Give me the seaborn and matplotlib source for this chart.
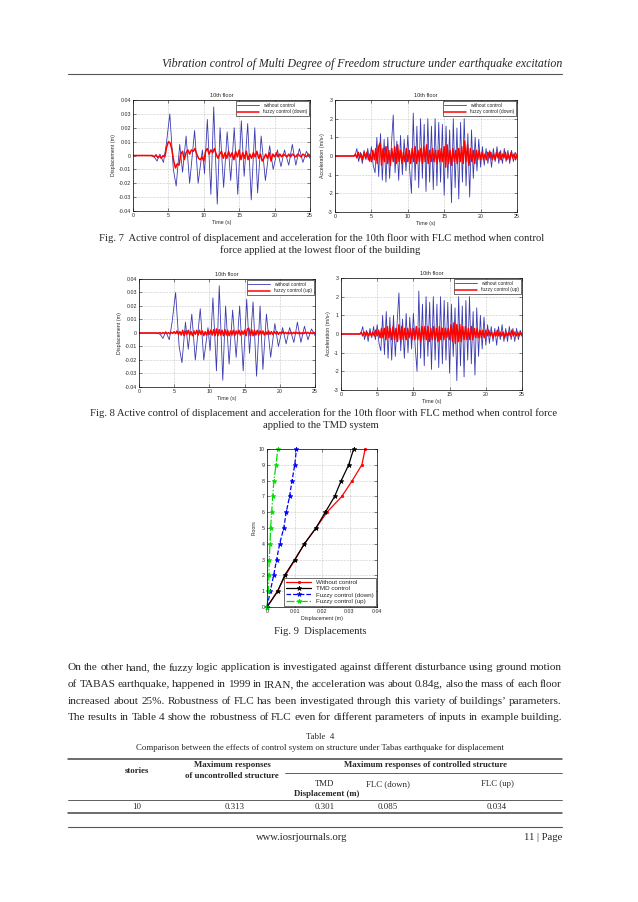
import numpy as np
import pandas as pd
import matplotlib
matplotlib.use("Agg")
import matplotlib.pyplot as plt
import seaborn as sns
from matplotlib.ticker import FixedLocator, FixedFormatter

# ---------------- data ----------------
# 10th floor displacement, without control (turning points, same run in Fig 7 and Fig 8)
disp_free_t = [0, 2.5, 3.0, 3.4, 3.8, 4.3, 4.7, 5.2, 5.7, 6.1, 6.6, 7.0, 7.5, 8.0, 8.7, 9.2,
               9.8, 10.1, 10.5, 11.0, 11.4, 11.9, 12.3, 12.8, 13.3, 13.8, 14.3, 14.8, 15.3,
               15.7, 16.2, 16.7, 17.2, 17.6, 18.1, 18.7, 19.3, 19.8, 20.4, 20.9, 21.4, 22.0,
               22.5, 23.0, 23.5, 24.0, 24.5, 25.0]
disp_free = [0, 0, -0.001, -0.004, 0.001, -0.005, 0.008, 0.030, -0.010, -0.022, 0.008, -0.012,
             0.014, -0.020, 0.018, -0.020, 0.004, -0.013, 0.026, -0.028, 0.035, -0.035, 0.020,
             -0.023, 0.017, -0.018, 0.020, -0.028, 0.025, -0.015, 0.023, -0.032, 0.020, -0.027,
             0.014, -0.018, 0.007, -0.010, 0.004, -0.008, 0.004, -0.007, 0.008, -0.007, 0.005,
             -0.005, 0.003, -0.002]

# 10th floor acceleration without control, every 0.25 s
acc_free = [0, 0, 0, 0, 0, 0, 0, 0, 0, 0, 0, 0,
            0.4, -0.3, 0.2, -0.4, 0.3, -0.2, 0.4, -0.3, 0.5, -0.5,
            -0.9, 1.0, -1.1, 1.2, -1.3, 0.9, -1.4, 1.0, -1.2, 0.6,
            2.2, -0.9, 0.8, -1.3, 1.1, -1.0, 0.9, -0.8, 1.1, -0.7,
            -2.0, 2.3, -1.3, 1.6, -1.7, 2.0, -1.2, 1.7, -1.9, 2.0,
            -1.4, 1.6, -1.8, 2.0, -1.6, 1.8, -1.4, 1.7, -2.1, 1.6,
            -1.2, 1.4, -2.5, 2.0, -1.7, 1.5, -2.3, 1.8, -1.4, 2.0,
            -1.6, 1.2, -2.2, 1.4, -1.2, 1.0, -0.8, 0.9, -0.6, 0.5,
            -0.5, 0.4, -0.4, 0.3, -0.6, 0.4, -0.3, 0.5, -0.4, 0.3,
            -0.4, 0.4, -0.3, 0.3, -0.4, 0.3, -0.3, 0.2, -0.1]

# fuzzy control (down), displacement every 0.25 s
disp_down = [0, 0, 0, 0, 0, 0, 0, 0, 0, 0, 0, 0,
             -0.001, 0.0005, -0.0015, -0.0005, -0.002, 0.0, -0.001, 0.006, 0.010, 0.009,
             0.004, -0.004, -0.009, -0.006, -0.007, 0.001, 0.003, -0.003, 0.002, 0.004,
             0.001, 0.004, 0.003, 0.005, 0.001, -0.002, -0.003, -0.001, -0.004, 0.003,
             0.005, 0.001, 0.004, 0.002, 0.005, 0.001, -0.002, 0.001, 0.003, -0.002,
             0.002, -0.002, 0.003, -0.001, 0.002, -0.003, 0.003, -0.001, 0.004, -0.003,
             0.002, -0.002, 0.003, -0.003, 0.001, -0.002, 0.002, -0.001, 0.003, -0.002,
             0.001, -0.004, -0.002, 0.001, -0.002, 0.002, -0.004, 0.001, -0.001, 0.002,
             -0.001, 0.001, -0.001, 0.001, 0.0, -0.001, 0.001, -0.001, 0.001, 0.0,
             -0.001, 0.001, 0.0, -0.001, 0.001, 0.0, -0.001, 0.001, 0.0]

# fuzzy control (down), acceleration every 0.2 s
acc_down = [0, 0, 0, 0, 0, 0, 0, 0, 0, 0, 0, 0, 0, 0,
            0.1, -0.1, 0.2, -0.1, 0.1, -0.2, 0.2, -0.1, 0.2, -0.2, 0.1, -0.3, 0.3, -0.2,
            0.4, -0.4, 0.5, 0.7, -0.5, 0.4, -0.3, 0.5, -0.4, 0.3, -0.5, 0.4, -0.3, 0.5,
            -0.4, 0.6, -0.3, 0.3, -0.4, 0.2, -0.3, 0.4, -0.3, 0.3, -0.4, 0.4, -0.3, 0.5,
            -0.4, 0.3, -0.3, 0.4, -0.4, 0.5, -0.3, 0.6, -0.4, 0.3, -0.3, 0.4, -0.3, 0.3,
            -0.4, 0.3, -0.3, 0.4, -0.3, 0.5, -0.6, 0.6, -0.4, 0.3, -0.5, 0.4, -0.3, 0.3,
            -0.4, 0.4, -0.3, 0.5, -0.4, 0.8, -0.3, 0.6, -0.5, 0.4, -0.3, 0.3, -0.4, 0.3,
            -0.2, 0.3, -0.2, 0.2, -0.2, 0.1, -0.2, 0.2, -0.1, 0.2, -0.2, 0.1, -0.2, 0.2,
            -0.1, 0.2, -0.2, 0.1, -0.1, 0.2, -0.2, 0.1, -0.2, 0.2, -0.1, 0.1, -0.2, 0.1]

# fuzzy control (up), displacement every 0.2 s
disp_up = [0, 0, 0, 0, 0, 0, 0, 0, 0, 0, 0, 0, 0, 0, 0,
           0.0003, -0.0005, 0.0003, -0.0003, 0.0005, -0.0005, 0.0003, -0.0005, 0.0005, -0.0003,
           0.001, -0.0005, 0.0015, -0.001, 0.001, -0.0015, 0.002, -0.002, 0.0015, -0.001,
           0.002, -0.0015, 0.001, -0.002, 0.0015, -0.001, 0.002, -0.0015, 0.002, -0.001,
           0.0015, -0.002, 0.001, -0.0015, 0.002, -0.001, 0.002, -0.0015, 0.0025, -0.002,
           0.003, -0.002, 0.0025, -0.0015, 0.002, -0.002, 0.0025, -0.0015, 0.002, -0.002,
           0.0015, -0.0015, 0.002, -0.002, 0.0015, -0.001, 0.002, -0.0015, 0.0015, -0.001,
           0.002, -0.002, 0.003, 0.0035, -0.002, 0.0025, -0.002, 0.002, -0.0015, 0.002,
           -0.0015, 0.0015, -0.001, 0.0015, -0.0015, 0.001, -0.001, 0.0015, -0.001, 0.001,
           -0.001, 0.001, -0.0005, 0.001, -0.001, 0.0005, -0.0005, 0.001, -0.0005, 0.0005,
           -0.0005, 0.0005, -0.0005, 0.0005, -0.0005, 0.0005, -0.0005, 0.0005, -0.0005, 0.0005,
           -0.0005, 0.0003, -0.0005, 0.0005, -0.0003, 0.0005, -0.0005, 0.0003, -0.0005, 0.0005, 0.0]

# fuzzy control (up), acceleration every 0.2 s
acc_up = [0, 0, 0, 0, 0, 0, 0, 0, 0, 0, 0, 0, 0, 0,
          0.1, -0.1, 0.1, -0.1, 0.1, -0.1, 0.1, -0.1, 0.1, -0.1, 0.2, -0.1, 0.2, -0.2,
          0.3, -0.2, 0.3, -0.3, 0.4, -0.2, 0.3, -0.3, 0.4, -0.3, 0.3, -0.4, 0.5, -0.3,
          0.4, -0.3, 0.3, -0.3, 0.3, -0.2, 0.3, -0.3, 0.3, -0.3, 0.4, -0.3, 0.3, -0.4,
          0.4, -0.3, 0.4, -0.3, 0.4, -0.4, 0.3, -0.3, 0.4, -0.3, 0.3, -0.4, 0.4, -0.3,
          0.3, -0.3, 0.3, -0.2, 0.3, -0.3, 0.5, -0.4, 0.6, -0.5, 0.5, -0.4, 0.5, -0.4,
          0.4, -0.3, 0.4, -0.3, 0.3, -0.3, 0.4, -0.3, 0.3, -0.2, 0.3, -0.2, 0.2, -0.2,
          0.2, -0.2, 0.2, -0.1, 0.2, -0.1, 0.1, -0.2, 0.1, -0.1, 0.2, -0.1, 0.1, -0.1,
          0.1, -0.2, 0.1, -0.1, 0.1, -0.1, 0.2, -0.1, 0.1, -0.1, 0.1, -0.1, 0.1, -0.1]

# Fig 9: peak displacement per floor
floors = [0, 1, 2, 3, 4, 5, 6, 7, 8, 9, 10]
floor_free = [0, 0.0038, 0.0067, 0.0102, 0.0136, 0.0178, 0.0218, 0.0272, 0.0310, 0.0345, 0.0357]
floor_tmd = [0, 0.0039, 0.0064, 0.0101, 0.0136, 0.0178, 0.0212, 0.0246, 0.0270, 0.0297, 0.0315]
floor_down = [0, 0.0012, 0.0024, 0.0035, 0.0046, 0.0061, 0.0070, 0.0082, 0.0091, 0.0101, 0.0107]
floor_up = [0, 0.0005, 0.0007, 0.0008, 0.0011, 0.0013, 0.0017, 0.0021, 0.0025, 0.0033, 0.0039]

# tick labels
time_ticks = [0, 5, 10, 15, 20, 25]
disp_ticks = [-0.04, -0.03, -0.02, -0.01, 0, 0.01, 0.02, 0.03, 0.04]
disp_labels = ["-0.04", "-0.03", "-0.02", "-0.01", "0", "0.01", "0.02", "0.03", "0.04"]
acc_ticks = [-3, -2, -1, 0, 1, 2, 3]
floor_x_ticks = [0, 0.01, 0.02, 0.03, 0.04]
floor_x_labels = ["0", "0.01", "0.02", "0.03", "0.04"]

# Table 4
table_cols = ["TMD", "FLC (down)", "FLC (up)"]
table_row = ["10", "0.313", "0.301", "0.085", "0.034"]

paragraph = [
    "On the other hand, the fuzzy logic application is investigated against different disturbance using ground motion",
    "of TABAS earthquake, happened in 1999 in IRAN, the acceleration was about 0.84g, also the mass of each floor",
    "increased about 25%. Robustness of FLC has been investigated through this variety of buildings\u2019 parameters.",
    "The results in Table 4 show the robustness of FLC even for different parameters of inputs in example building.",
]

# ---------------- page ----------------
sns.set_theme(style="white")
plt.rcParams["font.family"] = ["Liberation Sans", "DejaVu Sans"]
plt.rcParams["axes.linewidth"] = 0.5
plt.rcParams["axes.edgecolor"] = "black"

W, H = 638, 902
fig = plt.figure(figsize=(W / 100, H / 100), dpi=100)
page = fig.add_axes([0, 0, 1, 1])
page.set_xlim(0, W)
page.set_ylim(H, 0)
page.axis("off")
renderer = fig.canvas.get_renderer()
SERIF = ["Liberation Serif", "DejaVu Serif"]


def fit_size(s, width, **kw):
    t = page.text(0, 0, s, fontsize=10, **kw)
    w = t.get_window_extent(renderer).width
    t.remove()
    return 10 * width / w


def justify(y, line, x0, x1, size):
    words = line.split()
    ts = [page.text(0, y, w, fontsize=size, family=SERIF, va="center") for w in words]
    widths = [t.get_window_extent(renderer).width for t in ts]
    gap = (x1 - x0 - sum(widths)) / (len(words) - 1)
    x = x0
    for t, w in zip(ts, widths):
        t.set_x(x)
        x += w + gap


def px_axes(x0, y0, x1, y1):
    return fig.add_axes([x0 / W, 1 - y1 / H, (x1 - x0) / W, (y1 - y0) / H])


# header
head = "Vibration control of Multi Degree of Freedom structure under earthquake excitation"
hs = fit_size(head, 402, family=SERIF, style="italic")
page.text(562, 64, head, fontsize=hs, family=SERIF, style="italic", ha="right", va="center")
page.plot([68, 562], [74, 74], color="#555555", lw=0.8)

# captions
cap7 = "Fig. 7  Active control of displacement and acceleration for the 10th floor with FLC method when control"
cs = fit_size(cap7, 446, family=SERIF)
page.text(322, 238, cap7, fontsize=cs, family=SERIF, ha="center", va="center")
page.text(320, 250, "force applied at the lowest floor of the building", fontsize=cs,
          family=SERIF, ha="center", va="center")
cap8 = "Fig. 8 Active control of displacement and acceleration for the 10th floor with FLC method when control force"
page.text(324, 413, cap8, fontsize=cs, family=SERIF, ha="center", va="center")
page.text(321, 425, "applied to the TMD system", fontsize=cs, family=SERIF, ha="center", va="center")
page.text(320, 631, "Fig. 9  Displacements", fontsize=cs, family=SERIF, ha="center", va="center")

# body paragraph, justified
for i, line in enumerate(paragraph):
    justify(668 + i * 16.5, line, 68, 562, cs * 1.06)

# table 4
sub = "Comparison between the effects of control system on structure under Tabas earthquake for displacement"
ts_ = fit_size(sub, 365, family=SERIF)
page.text(320, 737, "Table  4", fontsize=ts_, family=SERIF, ha="center", va="center")
page.text(320, 748, sub, fontsize=ts_, family=SERIF, ha="center", va="center")
page.plot([68, 562], [759, 759], color="#444444", lw=1.1)
page.text(137, 771, "stories", fontsize=ts_, family=SERIF, weight="bold", ha="center", va="center")
page.text(232, 765, "Maximum responses", fontsize=ts_, family=SERIF, weight="bold", ha="center", va="center")
page.text(232, 776, "of uncontrolled structure", fontsize=ts_, family=SERIF, weight="bold",
          ha="center", va="center")
page.text(425, 765, "Maximum responses of controlled structure", fontsize=ts_, family=SERIF,
          weight="bold", ha="center", va="center")
page.plot([285, 562], [773, 773], color="#444444", lw=0.6)
col_x = [137, 235, 325, 388, 497]
for x, lab in zip(col_x[2:], table_cols):
    page.text(x, 784, lab, fontsize=ts_, family=SERIF, ha="center", va="center")
page.text(327, 794, "Displacement (m)", fontsize=ts_, family=SERIF, weight="bold", ha="center", va="center")
page.plot([68, 562], [800, 800], color="#444444", lw=0.6)
for x, v in zip(col_x, table_row):
    page.text(x, 807, v, fontsize=ts_, family=SERIF, ha="center", va="center")
page.plot([68, 562], [813, 813], color="#444444", lw=1.1)

# footer
page.plot([68, 562], [827, 827], color="#555555", lw=0.8)
page.text(302, 837, "www.iosrjournals.org", fontsize=cs, family=SERIF, ha="center", va="center")
page.text(562, 837, "11 | Page", fontsize=cs, family=SERIF, ha="right", va="center")

# ---------------- time history panels ----------------
BLUE = "#3a3ab0"
FS = 3.8


def style_axes(ax):
    ax.grid(True, linestyle=":", color="#999999", lw=0.4)
    ax.tick_params(direction="in", length=2, width=0.4, labelsize=FS, pad=1.5,
                   top=True, right=True, bottom=True, left=True)
    for s in ax.spines.values():
        s.set_linewidth(0.5)
        s.set_color("black")


def history(box, t_ctl, v_ctl, ctl_label, free_t, free_v, kind):
    ax = px_axes(*box)
    sns.lineplot(x=free_t, y=free_v, ax=ax, color=BLUE, lw=0.6, label="without control",
                 estimator=None, sort=False)
    sns.lineplot(x=t_ctl, y=v_ctl, ax=ax, color="#ff0000", lw=1.1, label=ctl_label,
                 estimator=None, sort=False)
    ax.set_xlim(0, 25)
    ax.xaxis.set_major_locator(FixedLocator(time_ticks))
    ax.xaxis.set_major_formatter(FixedFormatter([str(v) for v in time_ticks]))
    if kind == "disp":
        ax.set_ylim(-0.04, 0.04)
        ax.yaxis.set_major_locator(FixedLocator(disp_ticks))
        ax.yaxis.set_major_formatter(FixedFormatter(disp_labels))
        ax.set_ylabel("Displacement (m)", fontsize=FS, labelpad=2)
    else:
        ax.set_ylim(-3, 3)
        ax.yaxis.set_major_locator(FixedLocator(acc_ticks))
        ax.yaxis.set_major_formatter(FixedFormatter([str(v) for v in acc_ticks]))
        ax.set_ylabel("Acceleration (m/s\u00b2)", fontsize=FS, labelpad=2)
    ax.set_xlabel("Time (s)", fontsize=FS, labelpad=1.5)
    ax.set_title("10th floor", fontsize=FS + 0.3, pad=2)
    style_axes(ax)
    leg = ax.legend(loc="upper right", fontsize=FS - 0.3, frameon=True, fancybox=False,
                    edgecolor="black", framealpha=1, handlelength=4.5, borderpad=0.3,
                    labelspacing=0.3, borderaxespad=0.3)
    leg.get_frame().set_linewidth(0.4)
    return ax


t25 = np.arange(len(acc_free)) * 0.25
history((133, 100, 310, 211), np.arange(len(disp_down)) * 0.25, disp_down,
        "fuzzy control (down)", disp_free_t, disp_free, "disp")
history((335, 100, 517, 212), np.arange(len(acc_down)) * 0.2, acc_down,
        "fuzzy control (down)", t25, acc_free, "acc")
history((139, 279, 315, 387), np.arange(len(disp_up)) * 0.2, disp_up,
        "fuzzy control (up)", disp_free_t, disp_free, "disp")
history((341, 278, 522, 390), np.arange(len(acc_up)) * 0.2, acc_up,
        "fuzzy control (up)", t25, acc_free, "acc")

# ---------------- Fig 9 profile ----------------
ax9 = px_axes(267, 449, 377, 607)
prof = [
    (floor_free, "Without control", "#ff0000", "-", "."),
    (floor_tmd, "TMD control", "black", "-", "*"),
    (floor_down, "Fuzzy control (down)", "#0000ff", "--", "*"),
    (floor_up, "Fuzzy control (up)", "#00dd00", "-.", "*"),
]
for vals, lab, col, ls, mk in prof:
    sns.lineplot(x=vals, y=floors, ax=ax9, color=col, linestyle=ls, marker=mk, markersize=3.5,
                 markeredgecolor=col, markerfacecolor=col, markeredgewidth=0.5, lw=0.9,
                 label=lab, estimator=None, sort=False, orient="y", clip_on=False)
ax9.set_xlim(0, 0.04)
ax9.set_ylim(0, 10)
ax9.xaxis.set_major_locator(FixedLocator(floor_x_ticks))
ax9.xaxis.set_major_formatter(FixedFormatter(floor_x_labels))
ax9.yaxis.set_major_locator(FixedLocator(floors))
ax9.yaxis.set_major_formatter(FixedFormatter([str(f) for f in floors]))
ax9.set_xlabel("Displacement (m)", fontsize=FS, labelpad=1.5)
ax9.set_ylabel("Floors", fontsize=FS, labelpad=2)
style_axes(ax9)
leg9 = ax9.legend(loc="lower right", fontsize=FS + 0.7, frameon=True, fancybox=False,
                  edgecolor="black", framealpha=1, handlelength=4, borderpad=0.3,
                  labelspacing=0.15, borderaxespad=0.2)
leg9.get_frame().set_linewidth(0.4)

fig.savefig("out.png", dpi=100)
